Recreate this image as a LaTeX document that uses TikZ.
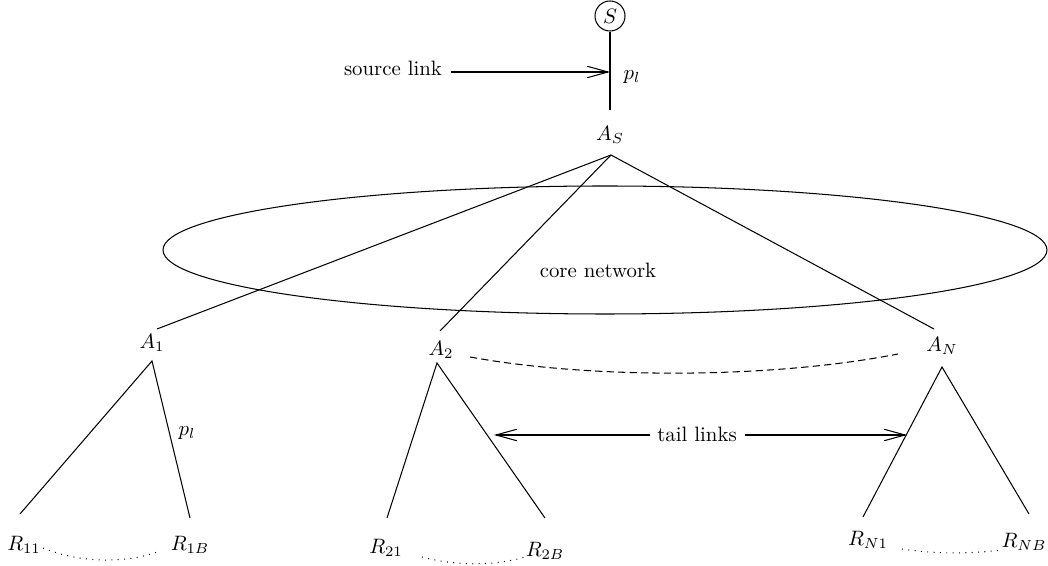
\documentclass[tikz,border=0pt]{standalone}
\usetikzlibrary{arrows.meta}
\begin{document}
\begin{tikzpicture}[x=0.48pt,y=-0.48pt,
  lbl/.style={inner sep=0pt},
  link/.style={line width=0.5pt},
  tiparrow/.style={line width=0.5pt,-{Straight Barb[length=10pt,width=5.5pt,line width=0.5pt]}},
  dotline/.style={line width=0.5pt,dash pattern=on 0.45pt off 2.6pt},
  dashline/.style={line width=0.5pt,dash pattern=on 3.5pt off 2pt}]
\useasboundingbox (0,0) rectangle (1048,566);
% nodes
\node[draw,circle,line width=0.5pt,minimum size=14.4pt,inner sep=0pt] (S) at (610,16) {$S$};
\node[lbl] (AS) at (610,135) {$A_S$};
\node[lbl] (src) at (393,68) {source link};
\node[lbl] (pl1) at (632,77) {$p_l$};
\node[lbl] (core) at (598,270) {core network};
\node[lbl] (A1) at (152,343) {$A_1$};
\node[lbl] (A2) at (441,350) {$A_2$};
\node[lbl] (AN) at (942,346) {$A_N$};
\node[lbl] (pl2) at (187,433) {$p_l$};
\node[lbl] (tail) at (697,434) {tail links};
\node[lbl] (R11) at (24,545) {$R_{11}$};
\node[lbl] (R1B) at (190,545) {$R_{1B}$};
\node[lbl] (R21) at (386,548) {$R_{21}$};
\node[lbl] (R2B) at (545,551) {$R_{2B}$};
\node[lbl] (RN1) at (868,540) {$R_{N1}$};
\node[lbl] (RNB) at (1024,542) {$R_{NB}$};
% anchor points
\coordinate (Sbot) at (610,110);
\coordinate (srcend) at (610,72);
\coordinate (srcstart) at (451,72);
\coordinate (AStop) at (611,155);
\coordinate (A1in) at (157,329);
\coordinate (A2in) at (440,331);
\coordinate (ANin) at (934,329);
\coordinate (A1out) at (152,361);
\coordinate (A2out) at (437,363);
\coordinate (ANout) at (942,367);
\coordinate (R11in) at (20,514);
\coordinate (R1Bin) at (190,518);
\coordinate (R21in) at (387,518);
\coordinate (R2Bin) at (545,518);
\coordinate (RN1in) at (863,517);
\coordinate (RNBin) at (1029,514);
\coordinate (tailLs) at (650,435);
\coordinate (tailRs) at (745,435);
\coordinate (tailL) at (494,435);
\coordinate (tailR) at (907,435);
% core network
\draw[link] (605,250) ellipse [x radius=442, y radius=64];
% source
\draw[link] (S.south) -- (Sbot);
\draw[tiparrow] (srcstart) -- (srcend);
% core links
\draw[link] (AStop) -- (A1in);
\draw[link] (AStop) -- (A2in);
\draw[link] (AStop) -- (ANin);
% tails
\draw[link] (R11in) -- (A1out) -- (R1Bin);
\draw[link] (R21in) -- (A2out) -- (R2Bin);
\draw[link] (RN1in) -- (ANout) -- (RNBin);
% tail links arrows
\draw[tiparrow] (tailLs) -- (tailL);
\draw[tiparrow] (tailRs) -- (tailR);
% dashed and dotted curves
\draw[dashline] (470,357) .. controls (590,379) and (770,379) .. (898,354);
\draw[dotline] (43,548) .. controls (80,563) and (125,564) .. (160,551);
\draw[dotline] (422,557) .. controls (455,566) and (495,566) .. (525,557);
\draw[dotline] (902,549) .. controls (935,554) and (970,554) .. (1002,550);
\end{tikzpicture}
\end{document}
